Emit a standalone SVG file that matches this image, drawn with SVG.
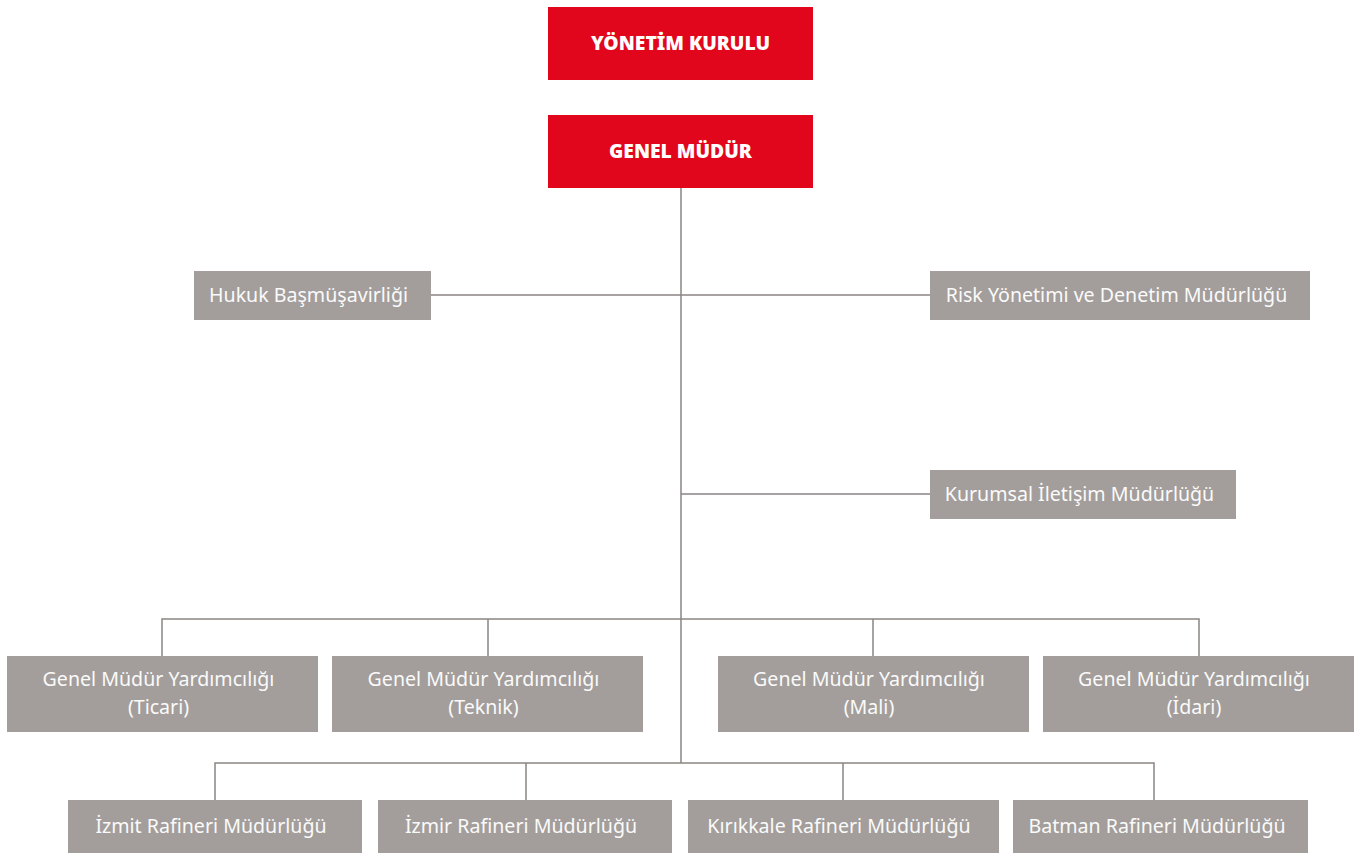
<svg xmlns="http://www.w3.org/2000/svg" width="1360" height="853" viewBox="0 0 1360 853">
<style>
.red{fill:#E2061C}
.gray{fill:#A39E9B}
.t{font-family:"Noto Sans","Open Sans","Liberation Sans",sans-serif;font-size:19.6px;fill:#FAFAFA;text-anchor:middle}
.b{font-family:"Noto Sans","Liberation Sans",sans-serif;font-size:19.3px;font-weight:900;fill:#FFFFFF;text-anchor:middle}
.c{stroke:#8A8583;stroke-width:1.5;fill:none}
</style>
<rect width="1360" height="853" fill="#FFFFFF"/>
<g id="connectors">
<path class="c" d="M681 188V763"/>
<path class="c" d="M431 295H930"/>
<path class="c" d="M681 494H930"/>
<path class="c" d="M162 656V619H1199V656M488 619V656M873 619V656"/>
<path class="c" d="M215 800V763H1154V800M526 763V800M843 763V800"/>
</g>
<g id="yonetim-kurulu"><rect class="red" x="548" y="7" width="265" height="73"/><text class="b" x="680.5" y="50">YÖNETİM KURULU</text></g>
<g id="genel-mudur"><rect class="red" x="548" y="115" width="265" height="73"/><text class="b" x="680.5" y="158">GENEL MÜDÜR</text></g>
<g id="hukuk"><rect class="gray" x="194" y="271" width="237" height="49"/><text class="t" x="308.5" y="302">Hukuk Başmüşavirliği</text></g>
<g id="risk"><rect class="gray" x="930" y="271" width="380" height="49"/><text class="t" x="1116.5" y="302">Risk Yönetimi ve Denetim Müdürlüğü</text></g>
<g id="kurumsal"><rect class="gray" x="930" y="470" width="306" height="49"/><text class="t" x="1079.5" y="501">Kurumsal İletişim Müdürlüğü</text></g>
<g id="gmy-ticari"><rect class="gray" x="7" y="656" width="311" height="76"/><text class="t" x="158.5" y="686">Genel Müdür Yardımcılığı</text><text class="t" x="158.5" y="714">(Ticari)</text></g>
<g id="gmy-teknik"><rect class="gray" x="332" y="656" width="311" height="76"/><text class="t" x="483.5" y="686">Genel Müdür Yardımcılığı</text><text class="t" x="483.5" y="714">(Teknik)</text></g>
<g id="gmy-mali"><rect class="gray" x="718" y="656" width="311" height="76"/><text class="t" x="869" y="686">Genel Müdür Yardımcılığı</text><text class="t" x="869" y="714">(Mali)</text></g>
<g id="gmy-idari"><rect class="gray" x="1043" y="656" width="311" height="76"/><text class="t" x="1194" y="686">Genel Müdür Yardımcılığı</text><text class="t" x="1194" y="714">(İdari)</text></g>
<g id="izmit"><rect class="gray" x="68" y="800" width="294" height="53"/><text class="t" x="211" y="833">İzmit Rafineri Müdürlüğü</text></g>
<g id="izmir"><rect class="gray" x="378" y="800" width="294" height="53"/><text class="t" x="521" y="833">İzmir Rafineri Müdürlüğü</text></g>
<g id="kirikkale"><rect class="gray" x="688" y="800" width="311" height="53"/><text class="t" x="839" y="833">Kırıkkale Rafineri Müdürlüğü</text></g>
<g id="batman"><rect class="gray" x="1013" y="800" width="295" height="53"/><text class="t" x="1157" y="833">Batman Rafineri Müdürlüğü</text></g>
</svg>
